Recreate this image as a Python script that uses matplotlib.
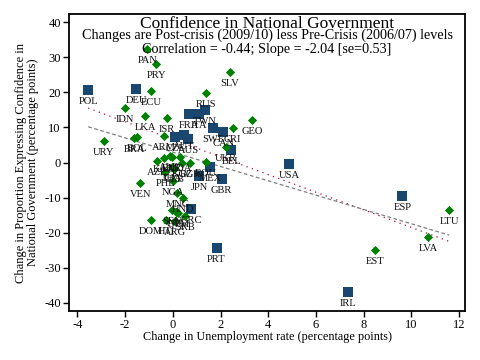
import matplotlib
matplotlib.use("Agg")
import matplotlib.pyplot as plt
import numpy as np

# --- data -------------------------------------------------------------
sq_labels = ["POL", "DEU", "FRA", "ITA", "TWN", "SWE", "CAN", "BEL", "CZE", "AUT",
             "AUS", "USA", "ESP", "IRL", "PRT", "GBR", "MEX", "JPN", "GRC"]
sq_x = [-3.55, -1.53, 0.68, 1.10, 1.35, 1.69, 2.11, 2.44, 0.10, 0.47,
        0.64, 4.88, 9.62, 7.36, 1.83, 2.05, 1.56, 1.10, 0.77]
sq_y = [20.7, 21.0, 13.8, 13.8, 14.9, 9.8, 8.7, 3.6, 7.3, 7.8,
        6.7, -0.4, -9.6, -37.0, -24.4, -4.8, -1.3, -3.8, -13.3]

dm_labels = ["PAN", "PRY", "SLV", "ECU", "RUS", "IDN", "LKA", "ISR", "GEO", "CRI",
             "UKR", "URY", "BRA", "BOL", "ARM", "ROU", "VEN", "DOM", "LTU", "LVA",
             "EST", "AZE", "KAZ", "ALB", "BLR", "MDA", "KGZ", "BGR", "PHL", "THA",
             "UZB", "NGA", "MNG", "HND", "SEN", "NIC", "GTM", "SRB", "HTI", "ARG"]
dm_x = [-1.07, -0.70, 2.40, -0.91, 1.38, -2.00, -1.16, -0.24, 3.32, 2.51,
        2.22, -2.89, -1.61, -1.51, -0.38, 1.37, -1.37, -0.91, 11.58, 10.69,
        8.48, -0.67, -0.39, -0.14, -0.03, 0.31, 0.38, 0.73, -0.32, -0.04,
        0.05, 0.00, 0.19, 0.42, -0.04, 0.14, 0.23, 0.52, -0.29, 0.10]
dm_y = [32.3, 28.1, 25.8, 20.4, 19.9, 15.5, 13.2, 12.7, 12.1, 9.8,
        4.4, 6.0, 6.9, 7.4, 7.5, 0.2, -5.8, -16.4, -13.4, -21.1,
        -24.8, 0.5, 1.3, 1.9, 1.6, 1.5, -0.2, -0.1, -2.6, -1.2,
        -1.7, -5.3, -8.6, -10.2, -13.5, -14.0, -14.5, -15.2, -16.4, -16.6]

# fitted lines (slope, intercept)
fit_slope, fit_intercept = -2.04, 2.95
alt_slope, alt_intercept = -2.51, 6.6

title1 = "Confidence in National Government"
title2 = "Changes are Post-crisis (2009/10) less Pre-Crisis (2006/07) levels"
title3 = "Correlation = -0.44; Slope = -2.04 [se=0.53]"
xlabel = "Change in Unemployment rate (percentage points)"
ylabel = "Change in Proportion Expressing Confidence in\nNational Government (percentage points)"
xticks = [-4, -2, 0, 2, 4, 6, 8, 10, 12]
yticks = [-40, -30, -20, -10, 0, 10, 20, 30, 40]

# --- plot -------------------------------------------------------------
plt.rcParams['font.family'] = ['Liberation Serif', 'DejaVu Serif']
fig = plt.figure(figsize=(4.8, 3.6), dpi=100)
ax = fig.add_axes([0.144, 0.136, 0.825, 0.825])

navy = "#1a476f"
green = "#008000"

all_x = np.array(sq_x + dm_x)
xs = np.array([all_x.min(), all_x.max()])
ax.plot(xs, alt_intercept + alt_slope * xs, color="#c10534", lw=0.9,
        linestyle=(0, (1, 3.5)), zorder=2)
ax.plot(xs, fit_intercept + fit_slope * xs, color="#808080", lw=0.9,
        linestyle=(0, (3, 2)), zorder=2)

ax.scatter(sq_x, sq_y, marker="s", s=48, color=navy, zorder=3, linewidths=0)
ax.scatter(dm_x, dm_y, marker="D", s=22, color=green, zorder=3, linewidths=0)

for lab, x, y in list(zip(sq_labels, sq_x, sq_y)) + list(zip(dm_labels, dm_x, dm_y)):
    ax.annotate(lab, (x, y), xytext=(0, -5), textcoords="offset points",
                ha="center", va="top", fontsize=7.6, color="#111111", zorder=4)

ax.set_xlim(-4.35, 12.25)
ax.set_ylim(-42.3, 42.3)
ax.set_xticks(xticks)
ax.set_yticks(yticks)
ax.set_xticklabels([str(t) for t in xticks])
ax.set_yticklabels([str(t) for t in yticks])
ax.tick_params(axis="both", direction="out", length=4, width=1, labelsize=9,
               pad=2, colors="black")
for s in ax.spines.values():
    s.set_linewidth(1.3)
    s.set_color("black")

ax.set_xlabel(xlabel, fontsize=8.8, labelpad=0)
ax.set_ylabel(ylabel, fontsize=9, labelpad=4, linespacing=0.95)

ax.text(0.5, 0.953, title1, transform=ax.transAxes, ha="center",
        va="baseline", fontsize=12.5)
ax.text(0.5, 0.916, title2, transform=ax.transAxes, ha="center",
        va="baseline", fontsize=10.2)
ax.text(0.5, 0.869, title3, transform=ax.transAxes, ha="center",
        va="baseline", fontsize=10.2)

fig.savefig("out.png", dpi=100)
